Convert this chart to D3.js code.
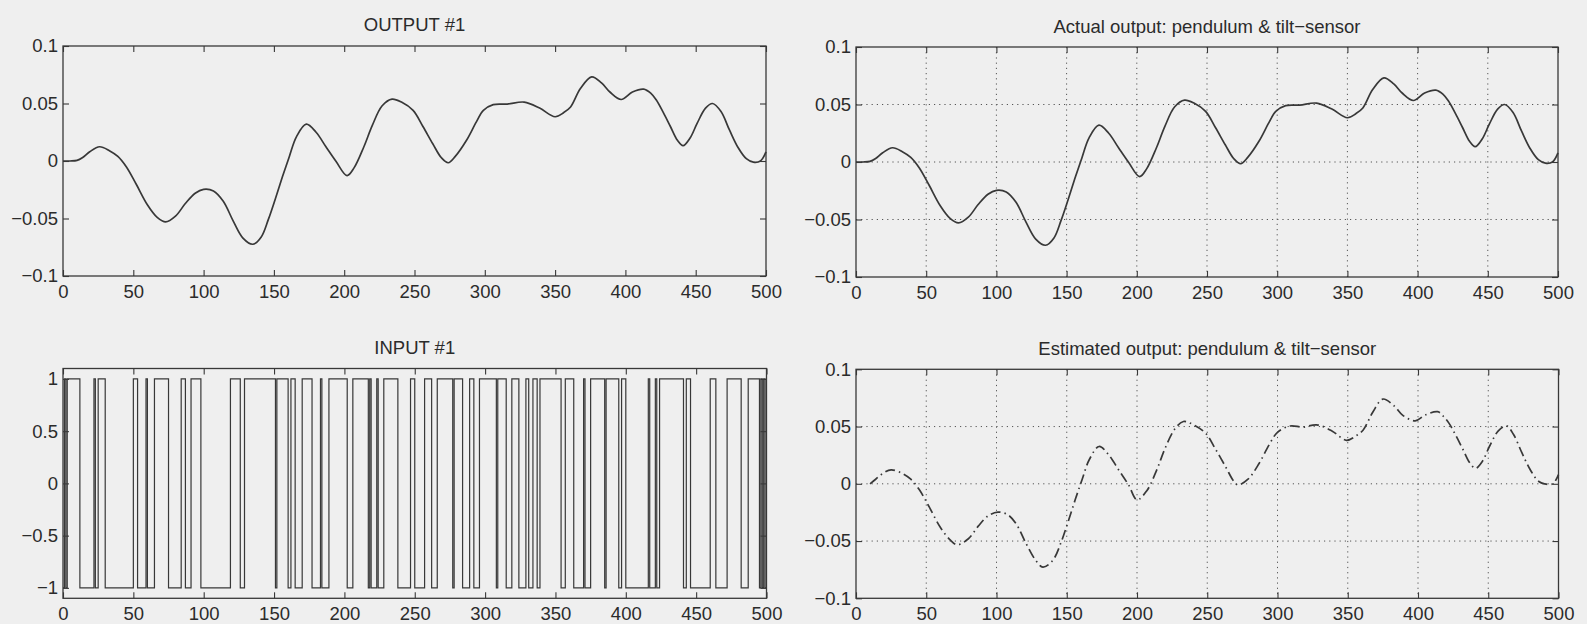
<!DOCTYPE html>
<html>
<head>
<meta charset="utf-8">
<script src="https://cdn.jsdelivr.net/npm/d3@7"></script>
<style>
  html, body { margin: 0; background: #efefef; }
  svg { display: block; }
  text { font-family: "Liberation Sans", Arial, Helvetica, sans-serif; fill: #2b2b2b; }
</style>
</head>
<body>
<svg id="fig" width="1587" height="624"></svg>
<script>
// ---- data ----------------------------------------------------------------
const sampleCount = 500;
const sampleTicks = [0, 50, 100, 150, 200, 250, 300, 350, 400, 450, 500];
const outputTicks = [-0.1, -0.05, 0, 0.05, 0.1];
const inputTicks = [-1, -0.5, 0, 0.5, 1];
const gridSampleTicks = [50, 100, 150, 200, 250, 300, 350, 400, 450];
const gridOutputTicks = [-0.05, 0, 0.05];

// measured output (pendulum angle from tilt sensor)
const outputTime = [0, 5, 10, 14, 19, 26, 33, 39, 45, 52, 60, 67, 73, 80, 87, 94, 100, 107, 114, 121,
  128, 135, 141, 146, 151, 156, 161, 166, 173, 180, 187, 194, 202, 207, 214, 220, 227, 234, 241, 249,
  256, 263, 269, 274, 279, 287, 294, 299, 306, 316, 328, 339, 350, 356, 361, 368, 376, 383, 389, 397,
  405, 413, 418, 422, 427, 432, 437, 441, 446, 451, 457, 462, 468, 474, 480, 486, 491, 496, 500];
const outputValue = [0, 0, 0.0005, 0.003, 0.008, 0.0124, 0.009, 0.004, -0.005, -0.02, -0.038, -0.049,
  -0.053, -0.048, -0.037, -0.028, -0.0246, -0.026, -0.035, -0.052, -0.067, -0.0724, -0.066, -0.051,
  -0.033, -0.014, 0.004, 0.021, 0.032, 0.025, 0.0124, 0, -0.0127, -0.006, 0.0124, 0.031, 0.048, 0.0538,
  0.051, 0.044, 0.03, 0.015, 0.003, -0.0015, 0.004, 0.018, 0.034, 0.044, 0.049, 0.0495, 0.0512, 0.046,
  0.0385, 0.042, 0.047, 0.063, 0.0732, 0.068, 0.06, 0.0535, 0.06, 0.0625, 0.059, 0.053, 0.042, 0.03,
  0.018, 0.0133, 0.02, 0.0327, 0.046, 0.05, 0.043, 0.027, 0.012, 0.002, -0.001, 0, 0.008];

// model-estimated output (starts once the model has enough past samples)
const estimatedTime = [10, 14, 19, 25, 33, 39, 45, 52, 60, 67, 72, 80, 87, 94, 101, 108, 114, 121, 128,
  133, 140, 146, 151, 156, 161, 166, 173, 180, 187, 194, 200, 207, 214, 220, 227, 233, 241, 249, 256,
  263, 269, 272, 279, 287, 294, 300, 309, 318, 328, 339, 349, 356, 361, 368, 375, 383, 389, 398, 405,
  414, 418, 422, 427, 432, 437, 441, 446, 451, 457, 463, 468, 474, 480, 486, 490, 496, 500];
const estimatedValue = [0, 0.004, 0.009, 0.0122, 0.009, 0.004, -0.005, -0.02, -0.038, -0.049, -0.0533,
  -0.048, -0.037, -0.028, -0.0247, -0.027, -0.035, -0.052, -0.067, -0.0728, -0.067, -0.051, -0.033,
  -0.014, 0.004, 0.021, 0.0326, 0.025, 0.012, -0.001, -0.014, -0.006, 0.012, 0.031, 0.048, 0.0544,
  0.051, 0.044, 0.03, 0.015, 0.002, -0.001, 0.004, 0.018, 0.034, 0.045, 0.0505, 0.0495, 0.0515, 0.046,
  0.038, 0.042, 0.047, 0.063, 0.074, 0.068, 0.06, 0.055, 0.06, 0.063, 0.059, 0.053, 0.042, 0.03, 0.018,
  0.0136, 0.02, 0.033, 0.046, 0.0506, 0.043, 0.027, 0.012, 0.002, 0, 0, 0.008];

// binary excitation signal: starting level and the samples where it flips sign
const inputStartLevel = -1;
const inputSwitchTimes = [1, 2, 3, 12, 22, 23, 25, 30, 50, 53, 59, 60, 65, 75, 84, 87, 91, 98, 119, 126,
  129, 151, 152, 160, 162, 165, 170, 177, 183, 184, 189, 202, 206, 217, 218, 219, 223, 224, 228, 238,
  247, 250, 257, 262, 266, 277, 278, 284, 289, 292, 296, 308, 309, 315, 319, 324, 329, 331, 334, 337,
  339, 354, 357, 363, 370, 371, 375, 385, 386, 395, 397, 400, 416, 417, 421, 422, 424, 441, 443, 446,
  460, 464, 472, 482, 487, 495, 496, 497, 498, 499];

// ---- drawing -------------------------------------------------------------
const svg = d3.select("#fig");
const FONT = 18.5;
const TICK = 6;
const INK = "#383838";
const smooth = d3.curveCatmullRom.alpha(0.5);

function drawPanel(box, yDomain, yTicks, withGrid, title, titleY) {
  const x = d3.scaleLinear().domain([0, sampleCount]).range([box.left, box.right]);
  const y = d3.scaleLinear().domain(yDomain).range([box.bottom, box.top]);
  const g = svg.append("g");

  if (withGrid) {
    const grid = g.append("g")
      .attr("stroke", "#555").attr("stroke-width", 1)
      .attr("stroke-dasharray", "1.2,4").attr("fill", "none");
    grid.selectAll("line.v").data(gridSampleTicks).join("line").attr("class", "v")
      .attr("x1", d => x(d)).attr("x2", d => x(d))
      .attr("y1", box.top).attr("y2", box.bottom);
    grid.selectAll("line.h").data(gridOutputTicks).join("line").attr("class", "h")
      .attr("y1", d => y(d)).attr("y2", d => y(d))
      .attr("x1", box.left).attr("x2", box.right);
  }

  const fmt = d3.format("");
  const style = sel => {
    sel.select(".domain").remove();
    sel.selectAll(".tick line").attr("stroke", INK).attr("stroke-width", 1.1);
    sel.selectAll(".tick text").attr("fill", "#2b2b2b");
    sel.attr("font-size", FONT).attr("font-family", null);
  };

  g.append("g").attr("transform", `translate(0,${box.bottom})`)
    .call(d3.axisBottom(x).tickValues(sampleTicks).tickSize(-TICK).tickPadding(9).tickFormat(fmt))
    .call(style);
  g.append("g").attr("transform", `translate(0,${box.top})`)
    .call(d3.axisTop(x).tickValues(sampleTicks).tickSize(-TICK).tickFormat(""))
    .call(style);
  g.append("g").attr("transform", `translate(${box.left},0)`)
    .call(d3.axisLeft(y).tickValues(yTicks).tickSize(-TICK).tickPadding(5).tickFormat(fmt))
    .call(style);
  g.append("g").attr("transform", `translate(${box.right},0)`)
    .call(d3.axisRight(y).tickValues(yTicks).tickSize(-TICK).tickFormat(""))
    .call(style);

  g.append("rect")
    .attr("x", box.left).attr("y", box.top)
    .attr("width", box.right - box.left).attr("height", box.bottom - box.top)
    .attr("fill", "none").attr("stroke", INK).attr("stroke-width", 1.3);

  g.append("text")
    .attr("x", (box.left + box.right) / 2).attr("y", titleY)
    .attr("text-anchor", "middle").attr("font-size", FONT)
    .text(title);

  return { g, x, y };
}

// top left: measured output
{
  const p = drawPanel({ left: 63, right: 766, top: 46, bottom: 276 }, [-0.1, 0.1], outputTicks,
    false, "OUTPUT #1", 31);
  p.g.append("path")
    .datum(d3.zip(outputTime, outputValue))
    .attr("fill", "none").attr("stroke", INK).attr("stroke-width", 1.7)
    .attr("d", d3.line().x(d => p.x(d[0])).y(d => p.y(d[1])).curve(smooth));
}

// bottom left: input signal
{
  const p = drawPanel({ left: 63, right: 766.5, top: 368.5, bottom: 598.3 }, [-1.1, 1.1], inputTicks,
    false, "INPUT #1", 353.5);
  const steps = [[0, inputStartLevel]];
  let level = inputStartLevel;
  inputSwitchTimes.forEach(t => { level = -level; steps.push([t, level]); });
  steps.push([sampleCount, level]);
  p.g.append("path")
    .datum(steps)
    .attr("fill", "none").attr("stroke", INK).attr("stroke-width", 1.2)
    .attr("d", d3.line().x(d => p.x(d[0])).y(d => p.y(d[1])).curve(d3.curveStepAfter));
}

// top right: actual output with grid
{
  const p = drawPanel({ left: 856, right: 1558, top: 47, bottom: 277 }, [-0.1, 0.1], outputTicks,
    true, "Actual output: pendulum & tilt\u2212sensor", 32.5);
  p.g.append("path")
    .datum(d3.zip(outputTime, outputValue))
    .attr("fill", "none").attr("stroke", INK).attr("stroke-width", 1.7)
    .attr("d", d3.line().x(d => p.x(d[0])).y(d => p.y(d[1])).curve(smooth));
}

// bottom right: estimated output, dash-dot
{
  const p = drawPanel({ left: 856, right: 1558.5, top: 369.3, bottom: 598.3 }, [-0.1, 0.1], outputTicks,
    true, "Estimated output: pendulum & tilt\u2212sensor", 355);
  p.g.append("path")
    .datum(d3.zip(estimatedTime, estimatedValue))
    .attr("fill", "none").attr("stroke", INK).attr("stroke-width", 1.7)
    .attr("stroke-dasharray", "10,4,1.5,4")
    .attr("d", d3.line().x(d => p.x(d[0])).y(d => p.y(d[1])).curve(smooth));
}
</script>
</body>
</html>
